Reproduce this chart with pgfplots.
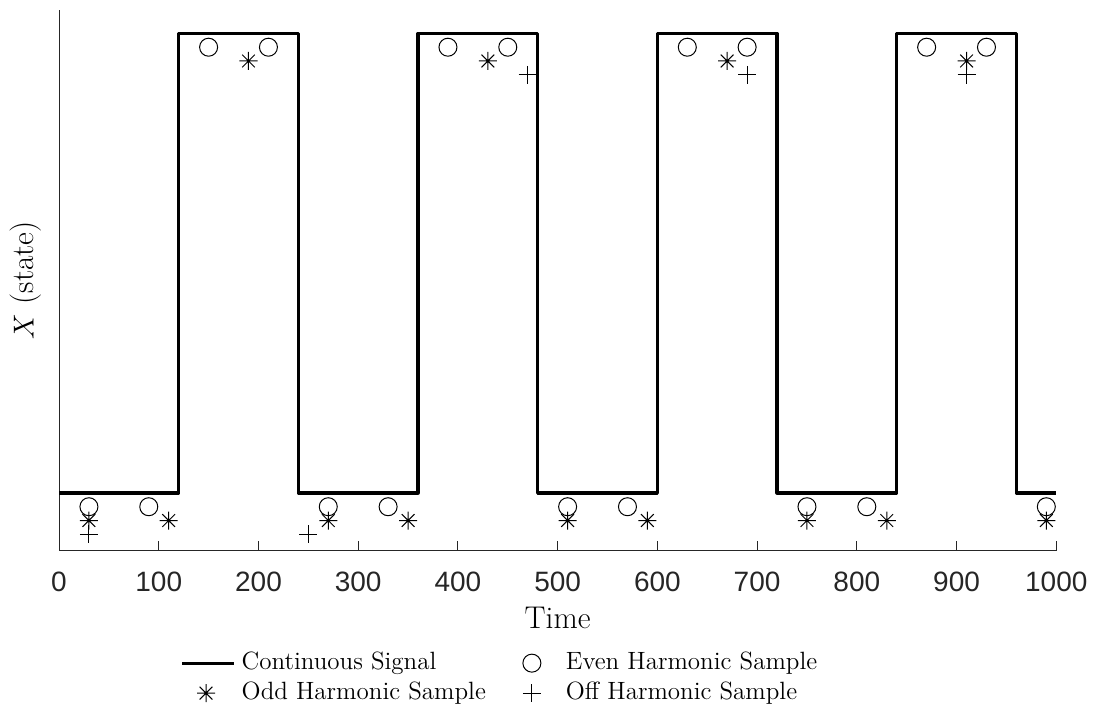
\documentclass[border=0pt]{standalone}
\usepackage{fontspec}
\setmainfont{Latin Modern Roman}
\newfontfamily\tickfont{Liberation Sans}
\usepackage{pgfplots}
\pgfplotsset{compat=1.18}
\usepackage{pgfplotstable}
\definecolor{axgray}{RGB}{38,38,38}

\pgfdeclareplotmark{star8}{%
  \pgfpathmoveto{\pgfqpoint{0pt}{\pgfplotmarksize}}%
  \pgfpathlineto{\pgfqpoint{0pt}{-\pgfplotmarksize}}%
  \pgfpathmoveto{\pgfqpoint{\pgfplotmarksize}{0pt}}%
  \pgfpathlineto{\pgfqpoint{-\pgfplotmarksize}{0pt}}%
  \pgfpathmoveto{\pgfqpoint{0.7071\pgfplotmarksize}{0.7071\pgfplotmarksize}}%
  \pgfpathlineto{\pgfqpoint{-0.7071\pgfplotmarksize}{-0.7071\pgfplotmarksize}}%
  \pgfpathmoveto{\pgfqpoint{-0.7071\pgfplotmarksize}{0.7071\pgfplotmarksize}}%
  \pgfpathlineto{\pgfqpoint{0.7071\pgfplotmarksize}{-0.7071\pgfplotmarksize}}%
  \pgfusepathqstroke}

\pgfplotsset{
  markleg/.style={legend image code/.code={\path[draw=none,fill=none] (0pt,0pt) -- (26pt,0pt); \draw[##1] plot[only marks] coordinates {(12pt,0pt)};}},
  lineleg/.style={legend image code/.code={\draw[black, line width=1.65pt] (0pt,0pt) -- (26pt,0pt);}},
}

\pgfplotstableread{
x y
0 0
120 0
120 1
240 1
240 0
360 0
360 1
480 1
480 0
600 0
600 1
720 1
720 0
840 0
840 1
960 1
960 0
1000 0
}\signal

\pgfplotstableread{
x y
30 -0.03
90 -0.03
150 0.97
210 0.97
270 -0.03
330 -0.03
390 0.97
450 0.97
510 -0.03
570 -0.03
630 0.97
690 0.97
750 -0.03
810 -0.03
870 0.97
930 0.97
990 -0.03
}\even

\pgfplotstableread{
x y
30 -0.06
110 -0.06
190 0.94
270 -0.06
350 -0.06
430 0.94
510 -0.06
590 -0.06
670 0.94
750 -0.06
830 -0.06
910 0.94
990 -0.06
}\odd

\pgfplotstableread{
x y
30 -0.09
250 -0.09
470 0.91
690 0.91
910 0.91
}\off

\begin{document}
\begin{tikzpicture}
\path[use as bounding box] (-29.5pt,-82.15pt) rectangle (516.85pt,275.35pt);
\begin{axis}[
  at={(0pt,0pt)}, anchor=south west,
  scale only axis, width=498.5pt, height=270.35pt,
  xmin=0, xmax=1000, ymin=-0.126, ymax=1.051,
  axis x line*=bottom, axis y line*=left,
  axis line style={-, axgray, line width=0.5pt},
  xtick={0,100,...,1000}, ytick=\empty,
  tick align=inside, major tick length=5pt,
  tick style={axgray, line width=0.5pt},
  /pgf/number format/assume math mode=true,
  /pgf/number format/1000 sep={},
  xticklabel style={font=\fontsize{14}{16}\selectfont\tickfont, text=axgray, anchor=north, inner sep=0pt, yshift=-10.5pt},
  xlabel={Time},
  ylabel={$X$ (state)},
  xlabel style={at={(axis description cs:0.5,-0.1435)}, anchor=base, font=\fontsize{15.7}{18}\selectfont, inner sep=0pt},
  ylabel style={at={(axis description cs:-0.0255,0.5)}, anchor=base, font=\fontsize{15.7}{18}\selectfont, inner sep=0pt},
  legend columns=2,
  legend cell align=left,
  legend style={draw=none, fill=none, at={(0.441,-0.2354)}, anchor=center,
    font=\fontsize{12.5}{15}\selectfont,
    nodes={inner sep=0pt, text height=9pt, text depth=3pt},
    row sep=3pt,
    /tikz/every even column/.append style={column sep=11pt},
    /tikz/every odd column/.append style={column sep=3pt}},
]
\addplot[black, line width=1.65pt, line join=round, lineleg]
  table[x=x,y=y] {\signal};
\addlegendentry{Continuous Signal}
\addplot[only marks, mark=o, mark size=4.5pt, black, line width=0.5pt, markleg]
  table[x=x,y=y] {\even};
\addlegendentry{Even Harmonic Sample}
\addplot[only marks, mark=star8, mark size=4.5pt, black, line width=0.5pt, markleg]
  table[x=x,y=y] {\odd};
\addlegendentry{Odd Harmonic Sample}
\addplot[only marks, mark=+, mark size=4.5pt, black, line width=0.5pt, markleg]
  table[x=x,y=y] {\off};
\addlegendentry{Off Harmonic Sample}
\end{axis}
\end{tikzpicture}
\end{document}
